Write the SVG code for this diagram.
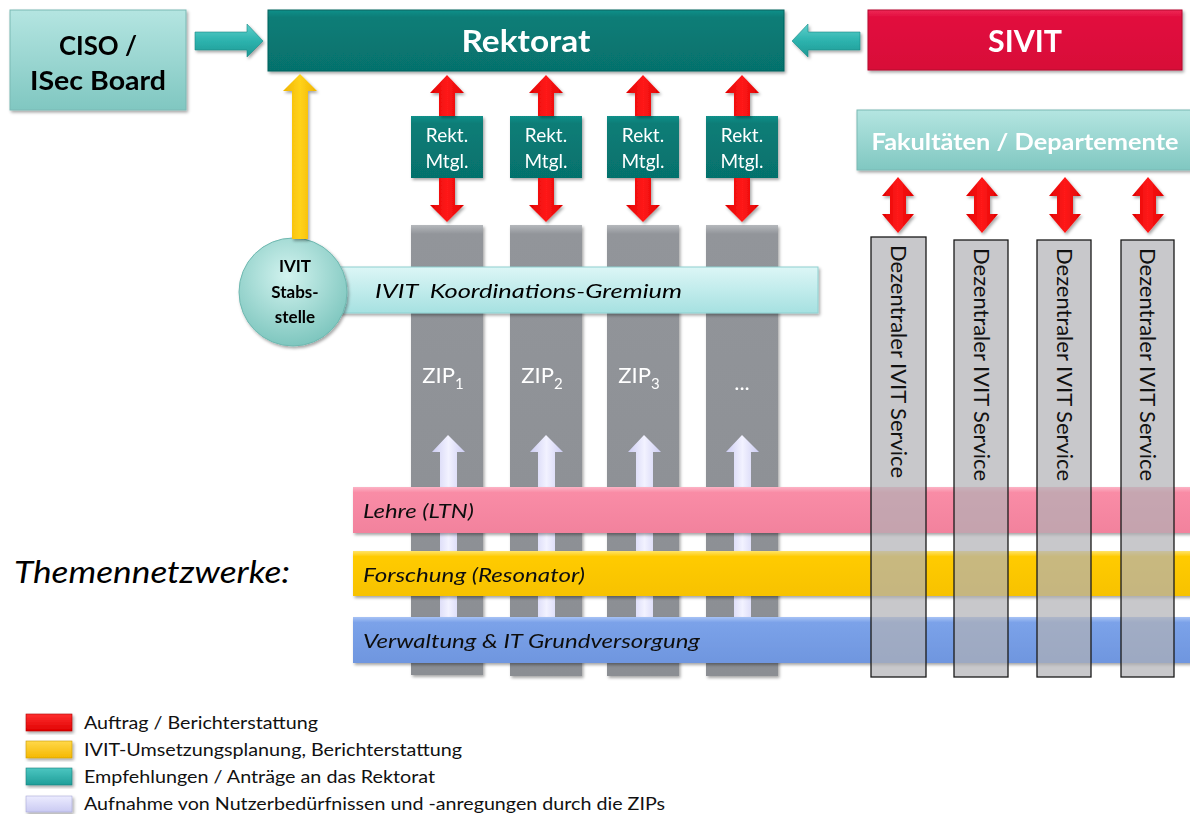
<svg xmlns="http://www.w3.org/2000/svg" width="1190" height="814" viewBox="0 0 1190 814">
<defs>
<linearGradient id="gTealDark" x1="0" y1="0" x2="0" y2="1"><stop offset="0" stop-color="#12908a"/><stop offset="0.12" stop-color="#097d77"/><stop offset="1" stop-color="#06716c"/></linearGradient>
<linearGradient id="gCrimson" x1="0" y1="0" x2="0" y2="1"><stop offset="0" stop-color="#ee2a57"/><stop offset="0.12" stop-color="#e20c3e"/><stop offset="1" stop-color="#d80838"/></linearGradient>
<linearGradient id="gLightTeal" x1="0" y1="0" x2="0" y2="1"><stop offset="0" stop-color="#b4e5e1"/><stop offset="1" stop-color="#80c7c1"/></linearGradient>
<linearGradient id="gKoord" x1="0" y1="0" x2="0" y2="1"><stop offset="0" stop-color="#dcf6f6"/><stop offset="1" stop-color="#a6e1e1"/></linearGradient>
<radialGradient id="gCircle" cx="0.45" cy="0.35" r="0.7"><stop offset="0" stop-color="#d2f3ef"/><stop offset="1" stop-color="#78c3bb"/></radialGradient>
<linearGradient id="gGray" x1="0" y1="0" x2="0" y2="1"><stop offset="0" stop-color="#b5b8bc"/><stop offset="0.02" stop-color="#92959a"/><stop offset="1" stop-color="#8b8e93"/></linearGradient>
<linearGradient id="gPink" x1="0" y1="0" x2="0" y2="1"><stop offset="0" stop-color="#fcb3c5"/><stop offset="0.12" stop-color="#f98ca6"/><stop offset="1" stop-color="#f2829d"/></linearGradient>
<linearGradient id="gYellow" x1="0" y1="0" x2="0" y2="1"><stop offset="0" stop-color="#ffe46a"/><stop offset="0.12" stop-color="#ffcb05"/><stop offset="1" stop-color="#f7c200"/></linearGradient>
<linearGradient id="gBlue" x1="0" y1="0" x2="0" y2="1"><stop offset="0" stop-color="#a7c2f5"/><stop offset="0.12" stop-color="#7ba2e9"/><stop offset="1" stop-color="#6f96df"/></linearGradient>
<linearGradient id="gRedV" x1="0" y1="0" x2="1" y2="0"><stop offset="0" stop-color="#e00000"/><stop offset="0.5" stop-color="#ff1a1a"/><stop offset="1" stop-color="#e00000"/></linearGradient>
<linearGradient id="gYellowV" x1="0" y1="0" x2="1" y2="0"><stop offset="0" stop-color="#f0b400"/><stop offset="0.5" stop-color="#ffd21a"/><stop offset="1" stop-color="#f0b400"/></linearGradient>
<linearGradient id="gTealH" x1="0" y1="0" x2="0" y2="1"><stop offset="0" stop-color="#5fd0cc"/><stop offset="0.5" stop-color="#2db3ae"/><stop offset="1" stop-color="#1f9994"/></linearGradient>
<linearGradient id="gLav" x1="0" y1="0" x2="1" y2="0"><stop offset="0" stop-color="#cdcdf3"/><stop offset="0.5" stop-color="#f2f2ff"/><stop offset="1" stop-color="#cdcdf3"/></linearGradient>
<linearGradient id="gLegRed" x1="0" y1="0" x2="0" y2="1"><stop offset="0" stop-color="#ff3030"/><stop offset="1" stop-color="#e00000"/></linearGradient>
<linearGradient id="gLegYel" x1="0" y1="0" x2="0" y2="1"><stop offset="0" stop-color="#ffd84a"/><stop offset="1" stop-color="#f5b800"/></linearGradient>
<linearGradient id="gLegTeal" x1="0" y1="0" x2="0" y2="1"><stop offset="0" stop-color="#4cc6c1"/><stop offset="1" stop-color="#1f9e99"/></linearGradient>
<linearGradient id="gLegLav" x1="0" y1="0" x2="0" y2="1"><stop offset="0" stop-color="#ececff"/><stop offset="1" stop-color="#cacaf2"/></linearGradient>
<filter id="sh" x="-10%" y="-10%" width="120%" height="130%"><feDropShadow dx="1.5" dy="2" stdDeviation="1.5" flood-color="#000" flood-opacity="0.35"/></filter>
</defs>
<style>
text{font-family:Lato,"Open Sans","Liberation Sans",sans-serif}
.b{font-weight:bold}
.i{font-style:italic}
.w{fill:#fff}
.k{fill:#000}
.rekt{fill:url(#gTealDark)}
.mtgl{font-size:19px;fill:#fff;text-anchor:middle}
.zip{fill:url(#gGray)}
.zipt{font-size:22px;fill:#fff;text-anchor:middle}
.dez{fill:#b0b1b5;fill-opacity:0.7;stroke:#1a1a1a;stroke-width:1.3}
.dezt{font-size:21px;fill:#111}
.band{filter:url(#sh)}
.bandt{font-size:19px;font-style:italic;fill:#111}
.red{fill:url(#gRedV);filter:url(#sh)}
.lav{fill:url(#gLav)}
.teal{fill:url(#gTealH);stroke:#1a8a86;stroke-width:0.6;filter:url(#sh)}
.leg{font-size:18px;fill:#111}
.circ{font-size:17px;font-weight:bold;fill:#000;text-anchor:middle}
</style>

<g id="ciso" filter="url(#sh)">
<rect x="10" y="10" width="176" height="100" fill="url(#gLightTeal)" stroke="#7ab9b4" stroke-width="1"/>
<text x="98" y="55" font-size="27" class="b k" text-anchor="middle" textLength="78" lengthAdjust="spacingAndGlyphs">CISO /</text>
<text x="98" y="90" font-size="27" class="b k" text-anchor="middle" textLength="136" lengthAdjust="spacingAndGlyphs">ISec Board</text>
</g>

<g id="rektorat" filter="url(#sh)">
<rect x="268" y="10" width="516" height="61" fill="url(#gTealDark)" stroke="#05625e" stroke-width="1"/>
<text x="526" y="52" font-size="30" class="b w" text-anchor="middle" textLength="129" lengthAdjust="spacingAndGlyphs">Rektorat</text>
</g>

<g id="sivit" filter="url(#sh)">
<rect x="868" y="10" width="314" height="60" fill="url(#gCrimson)" stroke="#b5062f" stroke-width="1"/>
<text x="1025" y="52" font-size="30" class="b w" text-anchor="middle" textLength="74" lengthAdjust="spacingAndGlyphs">SIVIT</text>
</g>

<g id="rekt-mtgl-1" filter="url(#sh)"><rect x="411" y="116" width="72" height="62" class="rekt"/><text x="447" y="142" class="mtgl">Rekt.</text><text x="447" y="168" class="mtgl">Mtgl.</text></g>
<g id="rekt-mtgl-2" filter="url(#sh)"><rect x="510" y="116" width="72" height="62" class="rekt"/><text x="546" y="142" class="mtgl">Rekt.</text><text x="546" y="168" class="mtgl">Mtgl.</text></g>
<g id="rekt-mtgl-3" filter="url(#sh)"><rect x="607" y="116" width="72" height="62" class="rekt"/><text x="643" y="142" class="mtgl">Rekt.</text><text x="643" y="168" class="mtgl">Mtgl.</text></g>
<g id="rekt-mtgl-4" filter="url(#sh)"><rect x="706" y="116" width="72" height="62" class="rekt"/><text x="742" y="142" class="mtgl">Rekt.</text><text x="742" y="168" class="mtgl">Mtgl.</text></g>

<g id="fakultaeten" filter="url(#sh)">
<rect x="857" y="110" width="340" height="60" fill="url(#gLightTeal)" stroke="#7ab9b4" stroke-width="1"/>
<text x="1025" y="150" font-size="22" class="b w" text-anchor="middle" textLength="307" lengthAdjust="spacingAndGlyphs">Fakultäten / Departemente</text>
</g>

<g id="zip-1" filter="url(#sh)"><rect x="411" y="225" width="72" height="450" class="zip"/><text x="443" y="383" class="zipt">ZIP<tspan font-size="15" dy="6">1</tspan></text></g>
<g id="zip-2" filter="url(#sh)"><rect x="510" y="225" width="72" height="451" class="zip"/><text x="542" y="383" class="zipt">ZIP<tspan font-size="15" dy="6">2</tspan></text></g>
<g id="zip-3" filter="url(#sh)"><rect x="607" y="225" width="72" height="451" class="zip"/><text x="639" y="383" class="zipt">ZIP<tspan font-size="15" dy="6">3</tspan></text></g>
<g id="zip-4" filter="url(#sh)"><rect x="706" y="225" width="72" height="451" class="zip"/><text x="742" y="390" class="zipt">...</text></g>

<g id="koordination" filter="url(#sh)">
<rect x="325" y="267" width="493" height="46" fill="url(#gKoord)" stroke="#8fd0d0" stroke-width="1"/>
<text x="375" y="298" font-size="20" class="i k" textLength="307" lengthAdjust="spacingAndGlyphs" xml:space="preserve">IVIT  Koordinations-Gremium</text>
</g>

<g id="ivit-stabsstelle" filter="url(#sh)">
<circle cx="293" cy="292" r="54" fill="url(#gCircle)" stroke="#6fb8b0" stroke-width="1"/>
<text x="295" y="272" class="circ">IVIT</text>
<text x="295" y="298" class="circ">Stabs-</text>
<text x="295" y="323" class="circ">stelle</text>
</g>

<g id="connectors">
<polygon class="teal" points="195,32 247,32 247,24 263,41 247,57 247,50 195,50"/>
<polygon class="teal" points="860,32 808,32 808,24 792,41 808,57 808,50 860,50"/>
<polygon fill="url(#gYellowV)" filter="url(#sh)" points="300,74 317,91 308,91 308,239 292,239 292,91 283,91"/>
<polygon class="red" points="447,75 464,93 455,93 455,116 439,116 439,93 430,93"/>
<polygon class="red" points="439,178 455,178 455,205 464,205 447,222 430,205 439,205"/>
<polygon class="red" points="546,75 563,93 554,93 554,116 538,116 538,93 529,93"/>
<polygon class="red" points="538,178 554,178 554,205 563,205 546,222 529,205 538,205"/>
<polygon class="red" points="643,75 660,93 651,93 651,116 635,116 635,93 626,93"/>
<polygon class="red" points="635,178 651,178 651,205 660,205 643,222 626,205 635,205"/>
<polygon class="red" points="742,75 759,93 750,93 750,116 734,116 734,93 725,93"/>
<polygon class="red" points="734,178 750,178 750,205 759,205 742,222 725,205 734,205"/>
<polygon class="red" points="898,177 914,196 906,196 906,214 914,214 898,233 882,214 890,214 890,196 882,196"/>
<polygon class="red" points="982,177 998,196 990,196 990,214 998,214 982,233 966,214 974,214 974,196 966,196"/>
<polygon class="red" points="1065,177 1081,196 1073,196 1073,214 1081,214 1065,233 1049,214 1057,214 1057,196 1049,196"/>
<polygon class="red" points="1148,177 1164,196 1156,196 1156,214 1164,214 1148,233 1132,214 1140,214 1140,196 1132,196"/>
<polygon class="lav" points="448,435 465,452 457,452 457,645 440,645 440,452 432,452"/>
<polygon class="lav" points="546,435 563,452 555,452 555,645 538,645 538,452 530,452"/>
<polygon class="lav" points="644,435 661,452 653,452 653,645 636,645 636,452 628,452"/>
<polygon class="lav" points="742,435 759,452 751,452 751,645 734,645 734,452 726,452"/>
</g>

<g id="lehre" class="band"><rect x="353" y="487" width="845" height="46" fill="url(#gPink)"/><text x="363" y="518" class="bandt" textLength="111" lengthAdjust="spacingAndGlyphs">Lehre (LTN)</text></g>
<g id="forschung" class="band"><rect x="353" y="551" width="845" height="45" fill="url(#gYellow)"/><text x="363" y="582" class="bandt" textLength="222" lengthAdjust="spacingAndGlyphs">Forschung (Resonator)</text></g>
<g id="verwaltung" class="band"><rect x="353" y="617" width="845" height="46" fill="url(#gBlue)"/><text x="363" y="648" class="bandt" textLength="337" lengthAdjust="spacingAndGlyphs">Verwaltung &amp; IT Grundversorgung</text></g>

<g id="dezentral-1"><rect x="871" y="237" width="55" height="440" class="dez"/><text transform="translate(898,245) rotate(90)" y="7.5" class="dezt" textLength="233" lengthAdjust="spacingAndGlyphs">Dezentraler IVIT Service</text></g>
<g id="dezentral-2"><rect x="954" y="240" width="54" height="437" class="dez"/><text transform="translate(981,248) rotate(90)" y="7.5" class="dezt" textLength="233" lengthAdjust="spacingAndGlyphs">Dezentraler IVIT Service</text></g>
<g id="dezentral-3"><rect x="1037" y="240" width="54" height="437" class="dez"/><text transform="translate(1064,248) rotate(90)" y="7.5" class="dezt" textLength="233" lengthAdjust="spacingAndGlyphs">Dezentraler IVIT Service</text></g>
<g id="dezentral-4"><rect x="1121" y="240" width="53" height="437" class="dez"/><text transform="translate(1147,248) rotate(90)" y="7.5" class="dezt" textLength="233" lengthAdjust="spacingAndGlyphs">Dezentraler IVIT Service</text></g>

<g id="themennetzwerke"><text x="14" y="583" font-size="31" class="i k" textLength="276" lengthAdjust="spacingAndGlyphs">Themennetzwerke:</text></g>

<g id="legend">
<rect x="26" y="714" width="46" height="17" fill="url(#gLegRed)" stroke="#b00000" stroke-width="0.6" filter="url(#sh)"/>
<text x="84" y="729" class="leg" textLength="234" lengthAdjust="spacingAndGlyphs">Auftrag / Berichterstattung</text>
<rect x="26" y="741" width="46" height="17" fill="url(#gLegYel)" stroke="#c99a00" stroke-width="0.6" filter="url(#sh)"/>
<text x="84" y="756" class="leg" textLength="378" lengthAdjust="spacingAndGlyphs">IVIT-Umsetzungsplanung, Berichterstattung</text>
<rect x="26" y="768" width="46" height="17" fill="url(#gLegTeal)" stroke="#16807c" stroke-width="0.6" filter="url(#sh)"/>
<text x="84" y="783" class="leg" textLength="351" lengthAdjust="spacingAndGlyphs">Empfehlungen / Anträge an das Rektorat</text>
<rect x="26" y="796" width="46" height="16" fill="url(#gLegLav)" stroke="#a8a8d8" stroke-width="0.6" filter="url(#sh)"/>
<text x="84" y="810" class="leg" textLength="581" lengthAdjust="spacingAndGlyphs">Aufnahme von Nutzerbedürfnissen und -anregungen durch die ZIPs</text>
</g>
</svg>
